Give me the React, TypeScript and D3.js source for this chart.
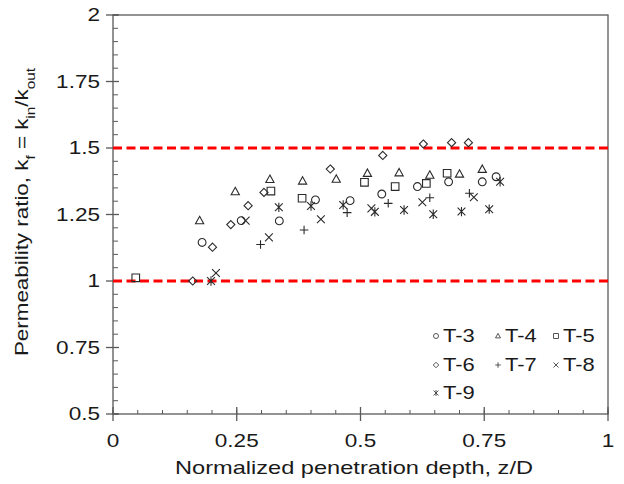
import React from "react";
import * as d3 from "d3";

const seriesNames = ["T-3", "T-4", "T-5", "T-6", "T-7", "T-8", "T-9"];
const markerKinds = ["circle", "triangle", "square", "diamond", "plus", "x", "asterisk"];

const t3: [number, number][] = [[0.180, 1.145], [0.259, 1.227], [0.336, 1.226], [0.409, 1.305], [0.479, 1.302], [0.543, 1.327], [0.615, 1.355], [0.678, 1.373], [0.746, 1.373], [0.774, 1.392]];
const t4: [number, number][] = [[0.175, 1.227], [0.247, 1.336], [0.317, 1.382], [0.383, 1.376], [0.451, 1.383], [0.514, 1.405], [0.578, 1.407], [0.640, 1.398], [0.700, 1.402], [0.746, 1.420]];
const t5: [number, number][] = [[0.046, 1.012], [0.319, 1.338], [0.382, 1.311], [0.508, 1.371], [0.570, 1.355], [0.633, 1.367], [0.675, 1.405]];
const t6: [number, number][] = [[0.161, 1.0], [0.201, 1.127], [0.238, 1.212], [0.273, 1.283], [0.305, 1.333], [0.439, 1.421], [0.545, 1.472], [0.627, 1.515], [0.684, 1.52], [0.718, 1.52]];
const t7: [number, number][] = [[0.298, 1.137], [0.386, 1.192], [0.473, 1.257], [0.556, 1.292], [0.640, 1.313], [0.720, 1.330]];
const t8: [number, number][] = [[0.208, 1.03], [0.268, 1.227], [0.315, 1.164], [0.420, 1.232], [0.522, 1.273], [0.625, 1.296], [0.729, 1.315]];
const t9: [number, number][] = [[0.198, 1.0], [0.335, 1.277], [0.400, 1.282], [0.465, 1.286], [0.529, 1.26], [0.588, 1.267], [0.647, 1.251], [0.704, 1.261], [0.760, 1.270], [0.782, 1.373]];
const seriesData = [t3, t4, t5, t6, t7, t8, t9];

const xTicks = [0, 0.25, 0.5, 0.75, 1];
const xTickLabels = ["0", "0.25", "0.5", "0.75", "1"];
const yTicks = [0.5, 0.75, 1, 1.25, 1.5, 1.75, 2];
const yTickLabels = ["0.5", "0.75", "1", "1.25", "1.5", "1.75", "2"];
const refLines = [1, 1.5];

const W = 624, H = 484;
const left = 113, right = 608, top = 15, bottom = 414;
const FONT = "Arial, 'Liberation Sans', sans-serif";
const INK = "#2a2a2a";
const AXIS = "#595959";
const TXT = "#1a1a1a";
const SX = 1.22;

function markerPath(kind: string, s: number): string {
  const p = d3.path();
  switch (kind) {
    case "circle":
      p.moveTo(s, 0);
      p.arc(0, 0, s, 0, Math.PI * 2);
      break;
    case "triangle": {
      const h = s * 1.8;
      p.moveTo(0, -h * 0.58);
      p.lineTo(s, h * 0.42);
      p.lineTo(-s, h * 0.42);
      p.closePath();
      break;
    }
    case "square":
      p.rect(-s, -s, 2 * s, 2 * s);
      break;
    case "diamond":
      p.moveTo(0, -s * 1.1);
      p.lineTo(s * 1.1, 0);
      p.lineTo(0, s * 1.1);
      p.lineTo(-s * 1.1, 0);
      p.closePath();
      break;
    case "plus":
      p.moveTo(-s * 1.1, 0); p.lineTo(s * 1.1, 0);
      p.moveTo(0, -s * 1.1); p.lineTo(0, s * 1.1);
      break;
    case "x":
      p.moveTo(-s, -s); p.lineTo(s, s);
      p.moveTo(-s, s); p.lineTo(s, -s);
      break;
    case "asterisk":
      p.moveTo(-s, -s); p.lineTo(s, s);
      p.moveTo(-s, s); p.lineTo(s, -s);
      p.moveTo(0, -s * 1.2); p.lineTo(0, s * 1.2);
      break;
  }
  return p.toString();
}

const markerSize: Record<string, number> = {
  circle: 3.9, triangle: 4.1, square: 3.8, diamond: 3.7, plus: 3.9, x: 3.9, asterisk: 3.9,
};

export default function App() {
  const x = d3.scaleLinear().domain([0, 1]).range([left, right]);
  const y = d3.scaleLinear().domain([0.5, 2]).range([bottom, top]);
  const xMinor = d3.range(0, 1.0001, 0.05).map((v) => +v.toFixed(2));
  const yMinor = d3.range(0.5, 2.0001, 0.05).map((v) => +v.toFixed(2));

  const legendRows = [336, 365, 393];
  const legendCols = [436, 498, 556];

  return (
    <svg width={W} height={H} style={{ position: "absolute", left: 0, top: 0, background: "#fff" }}>
      <rect x={0} y={0} width={W} height={H} fill="#fff" />
      <rect x={left} y={top} width={right - left} height={bottom - top} fill="none" stroke={AXIS} strokeWidth={1.3} />
      {xMinor.map((v, i) => (
        <line key={"xm" + i} x1={x(v)} x2={x(v)} y1={bottom} y2={bottom - 4} stroke={AXIS} strokeWidth={1} />
      ))}
      {yMinor.map((v, i) => (
        <line key={"ym" + i} x1={left} x2={left + 5} y1={y(v)} y2={y(v)} stroke={AXIS} strokeWidth={1} />
      ))}
      {xTicks.map((v, i) => (
        <g key={"xt" + i}>
          <line x1={x(v)} x2={x(v)} y1={bottom - 7} y2={bottom + 7} stroke={AXIS} strokeWidth={1.3} />
          <text transform={`translate(${x(v)},447) scale(${SX},1)`} textAnchor="middle" fontFamily={FONT} fontSize={18.5} fill={TXT}>{xTickLabels[i]}</text>
        </g>
      ))}
      {yTicks.map((v, i) => (
        <g key={"yt" + i}>
          <line x1={left - 7} x2={left + 6} y1={y(v)} y2={y(v)} stroke={AXIS} strokeWidth={1.3} />
          <text transform={`translate(100,${y(v)}) scale(${SX},1)`} dy="0.35em" textAnchor="end" fontFamily={FONT} fontSize={18.5} fill={TXT}>{yTickLabels[i]}</text>
        </g>
      ))}
      {refLines.map((v, i) => (
        <line key={"rl" + i} x1={left} x2={right} y1={y(v)} y2={y(v)} stroke="#ff0000" strokeWidth={3} strokeDasharray="9 4.5" />
      ))}
      {seriesData.map((pts, si) => (
        <g key={"s" + si}>
          {pts.map((d, j) => (
            <path key={j} transform={`translate(${x(d[0])},${y(d[1])})`} d={markerPath(markerKinds[si], markerSize[markerKinds[si]])} fill="none" stroke={INK} strokeWidth={1.1} />
          ))}
        </g>
      ))}
      {seriesNames.map((name, i) => {
        const lx = legendCols[i % 3];
        const ly = legendRows[Math.floor(i / 3)];
        return (
          <g key={"lg" + i}>
            <path transform={`translate(${lx},${ly})`} d={markerPath(markerKinds[i], 2.5)} fill="none" stroke="#444" strokeWidth={0.9} />
            <text transform={`translate(${lx + 7},${ly}) scale(${SX},1)`} dy="0.35em" fontFamily={FONT} fontSize={18} fill={TXT}>{name}</text>
          </g>
        );
      })}
      <text x={354} y={474} textAnchor="middle" fontFamily={FONT} fontSize={18.5} fill={TXT} textLength={358} lengthAdjust="spacingAndGlyphs">Normalized penetration depth, z/D</text>
      <text transform={`translate(28,212) rotate(-90) scale(1.28,1)`} textAnchor="middle" fontFamily={FONT} fontSize={17.5} fill={TXT}>
        Permeability ratio, k<tspan baselineShift="sub" fontSize={12}>f</tspan> = k<tspan baselineShift="sub" fontSize={12}>in</tspan>/k<tspan baselineShift="sub" fontSize={12}>out</tspan>
      </text>
    </svg>
  );
}
